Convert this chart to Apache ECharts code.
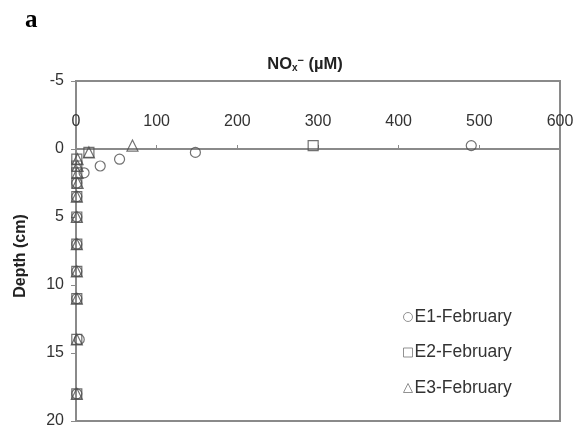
<!DOCTYPE html>
<html>
<head>
<meta charset="utf-8">
<script src="https://cdn.jsdelivr.net/npm/echarts@6/dist/echarts.min.js"></script>
<style>
  html, body { margin: 0; padding: 0; background: #ffffff; }
  #chart { width: 577px; height: 430px; }
</style>
</head>
<body>
<div id="chart"></div>
<script>
// Sediment depth profile of NOx- concentration at three stations (February)
const depths = [-0.25, 0.25, 0.75, 1.25, 1.75, 2.5, 3.5, 5, 7, 9, 11, 14, 18];
const noxE1 = [490, 148, 54, 30, 10, 1, 1, 1, 1, 1, 1, 4, 1];
const noxE2 = [294, 16, 1, 1, 1, 1, 1, 1, 1, 1, 1, 1, 1];
const noxE3 = [70, 16, 2, 2, 2, 2, 1, 1, 1, 1, 1, 1, 1];
const seriesNames = ['E1-February', 'E2-February', 'E3-February'];
const seriesSymbols = ['circle', 'rect', 'triangle'];
const xTicks = { min: 0, max: 600, step: 100 };
const yTicks = { min: -5, max: 20, step: 5 };

const AXIS_GREY = '#8a8a8a';
const MARK_GREY = '#4d4d4d';
const FONT = 'Liberation Sans, Arial, sans-serif';

// plot box in pixels
const GRID = { left: 76, right: 17, top: 81, bottom: 9 };
const plotHeight = 430 - GRID.top - GRID.bottom;
// the concentration axis sits on the sediment surface (depth 0)
const surfaceOffset = -plotHeight * (0 - yTicks.min) / (yTicks.max - yTicks.min);

function pairs(values) {
  return values.map((v, i) => [v, depths[i]]);
}

const seriesValues = [noxE1, noxE2, noxE3];
const symbolSizes = [10, 10, 11];

const chart = echarts.init(document.getElementById('chart'), null, { renderer: 'canvas' });

chart.setOption({
  animation: false,
  backgroundColor: '#ffffff',
  textStyle: { fontFamily: FONT },
  title: [
    {
      text: '{b|NO}{s|x}{p|\u2212}{b| (\u00b5M)}',
      left: 300,
      top: 50,
      textAlign: 'center',
      textStyle: {
        rich: {
          b: { fontFamily: FONT, fontWeight: 'bold', fontSize: 16.5, color: '#222' },
          s: { fontFamily: FONT, fontWeight: 'bold', fontSize: 10, color: '#222', verticalAlign: 'bottom', padding: [7, 0, 0, 0] },
          p: { fontFamily: FONT, fontWeight: 'bold', fontSize: 11, color: '#222', verticalAlign: 'top', padding: [0, 0, 7, 0] }
        }
      }
    },
    {
      text: 'a',
      left: 20,
      top: 3,
      textStyle: { fontFamily: 'Liberation Serif, Times New Roman, serif', fontWeight: 'bold', fontSize: 25, color: '#000' }
    }
  ],
  grid: {
    left: GRID.left,
    right: GRID.right,
    top: GRID.top,
    bottom: GRID.bottom,
    show: true,
    borderColor: AXIS_GREY,
    borderWidth: 2,
    backgroundColor: 'transparent'
  },
  legend: {
    orient: 'vertical',
    left: 403,
    top: 308,
    itemGap: 17.5,
    itemWidth: 9,
    itemHeight: 9,
    padding: 0,
    textStyle: { fontFamily: FONT, fontSize: 17.5, color: '#333', padding: [0, 0, 0, -3] },
    data: seriesNames.map((n, i) => ({
      name: n,
      icon: seriesSymbols[i],
      itemStyle: { color: 'rgba(0,0,0,0)', borderColor: '#777', borderWidth: 1 }
    }))
  },
  xAxis: {
    type: 'value',
    position: 'top',
    offset: surfaceOffset,
    min: xTicks.min,
    max: xTicks.max,
    interval: xTicks.step,
    axisLine: { show: true, onZero: false, lineStyle: { color: AXIS_GREY, width: 2 } },
    axisTick: { show: true, inside: false, length: 4, lineStyle: { color: AXIS_GREY, width: 1 } },
    axisLabel: { margin: 19, fontFamily: FONT, fontSize: 16, color: '#333' },
    splitLine: { show: false }
  },
  yAxis: {
    type: 'value',
    inverse: true,
    min: yTicks.min,
    max: yTicks.max,
    interval: yTicks.step,
    name: 'Depth (cm)',
    nameLocation: 'middle',
    nameGap: 47,
    nameRotate: 90,
    nameTextStyle: { fontFamily: FONT, fontWeight: 'bold', fontSize: 16, color: '#222', padding: [0, 10, 0, 0] },
    axisLine: { show: true, onZero: false, lineStyle: { color: AXIS_GREY, width: 2 } },
    axisTick: { show: true, inside: false, length: 5, lineStyle: { color: AXIS_GREY, width: 1 } },
    axisLabel: { margin: 12, fontFamily: FONT, fontSize: 16, color: '#333' },
    splitLine: { show: false }
  },
  series: seriesNames.map((name, i) => ({
    name: name,
    type: 'scatter',
    symbol: seriesSymbols[i],
    symbolSize: symbolSizes[i],
    data: pairs(seriesValues[i]),
    itemStyle: { color: 'rgba(0,0,0,0)', borderColor: MARK_GREY, borderWidth: 1.2 },
    emphasis: { disabled: true },
    z: 3 + i
  }))
});
</script>
</body>
</html>
